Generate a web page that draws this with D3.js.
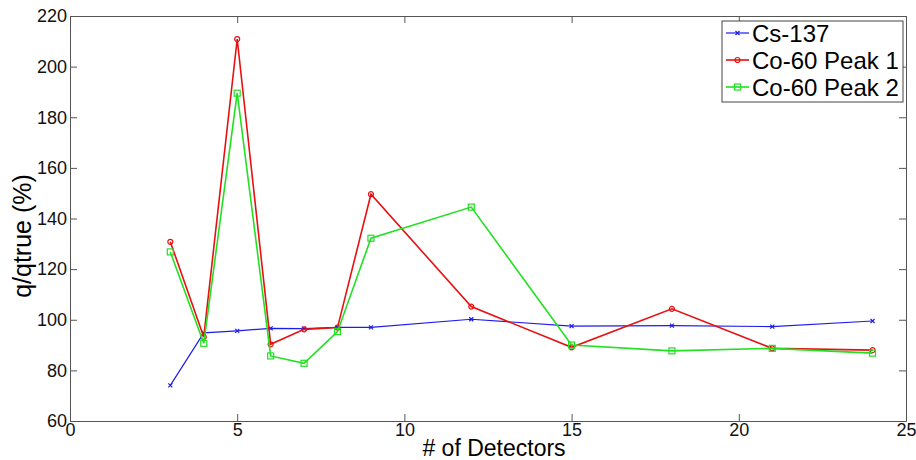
<!DOCTYPE html>
<html>
<head>
<meta charset="utf-8">
<style>
body { margin: 0; background: #fff; }
svg { font-family: "Liberation Sans", Arial, sans-serif; }
.axis path, .axis line { stroke: #555; }
.axis text { font-size: 18px; fill: #111; }
</style>
</head>
<body>
<svg width="916" height="460"></svg>
<script src="https://d3js.org/d3.v7.min.js"></script>
<script>
// detector counts and q/qtrue (%)
var detectors = [3, 4, 5, 6, 7, 8, 9, 12, 15, 18, 21, 24];
var cs137   = [74.1, 94.8, 95.6, 96.6, 96.5, 97.0, 97.0, 100.2, 97.5, 97.7, 97.3, 99.5];
var coPeak1 = [130.8, 93.2, 210.9, 90.3, 96.2, 96.9, 149.6, 105.2, 89.1, 104.3, 88.7, 88.0];
var coPeak2 = [126.8, 90.7, 189.5, 85.7, 82.8, 95.3, 132.2, 144.5, 90.0, 87.7, 88.7, 86.8];
var seriesNames = ["Cs-137", "Co-60 Peak 1", "Co-60 Peak 2"];
var xTicks = [0, 5, 10, 15, 20, 25];
var yTicks = [60, 80, 100, 120, 140, 160, 180, 200, 220];

var svg = d3.select("svg"),
    margin = {top: 16, right: 10, bottom: 39, left: 70},
    width = +svg.attr("width") - margin.left - margin.right,
    height = +svg.attr("height") - margin.top - margin.bottom;

var x = d3.scaleLinear().domain([0, 25]).range([0, width]),
    y = d3.scaleLinear().domain([60, 220]).range([height, 0]);

var g = svg.append("g")
    .attr("transform", "translate(" + margin.left + "," + margin.top + ")");

// matlab style box with inward ticks on all sides
g.append("g").attr("class", "axis")
    .attr("transform", "translate(0," + height + ")")
    .call(d3.axisBottom(x).tickValues(xTicks).tickSizeInner(-7).tickSizeOuter(0).tickPadding(2));
g.append("g").attr("class", "axis")
    .call(d3.axisTop(x).tickValues(xTicks).tickSizeInner(-7).tickSizeOuter(0).tickFormat(""));
g.append("g").attr("class", "axis")
    .call(d3.axisLeft(y).tickValues(yTicks).tickSizeInner(-7).tickSizeOuter(0).tickPadding(3))
    .selectAll("text").attr("x", -3);
g.append("g").attr("class", "axis")
    .attr("transform", "translate(" + width + ",0)")
    .call(d3.axisRight(y).tickValues(yTicks).tickSizeInner(-7).tickSizeOuter(0).tickFormat(""));

svg.append("text")
    .attr("x", margin.left + width / 2 + 6)
    .attr("y", 456)
    .attr("text-anchor", "middle")
    .style("font-size", "23px")
    .text("# of Detectors");

svg.append("text")
    .attr("transform", "translate(31,236) rotate(-90)")
    .attr("text-anchor", "middle")
    .style("font-size", "25px")
    .text("q/qtrue (%)");

var series = [
  {name: seriesNames[0], values: cs137, color: "#1c1cf0", width: 1.2, marker: "x"},
  {name: seriesNames[1], values: coPeak1, color: "#e81010", width: 1.6, marker: "o"},
  {name: seriesNames[2], values: coPeak2, color: "#22e022", width: 1.6, marker: "s"}
];

var line = d3.line()
    .x(function(d) { return x(d[0]); })
    .y(function(d) { return y(d[1]); });

function drawMarker(sel, type, color) {
  if (type === "o") {
    sel.append("circle").attr("r", 2.5).attr("fill", "none").attr("stroke", color).attr("stroke-width", 1.2);
  } else if (type === "s") {
    sel.append("rect").attr("x", -3).attr("y", -3).attr("width", 6).attr("height", 6)
      .attr("fill", "none").attr("stroke", color).attr("stroke-width", 1.2);
  } else {
    sel.append("path").attr("d", "M-2,-2L2,2M-2,2L2,-2").attr("stroke", color).attr("stroke-width", 1.2);
  }
}

series.forEach(function(s) {
  var pts = detectors.map(function(d, i) { return [d, s.values[i]]; });
  g.append("path")
      .datum(pts)
      .attr("fill", "none")
      .attr("stroke", s.color)
      .attr("stroke-width", s.width)
      .attr("d", line);
  g.selectAll(null)
    .data(pts)
    .enter().append("g")
      .attr("transform", function(d) { return "translate(" + x(d[0]) + "," + y(d[1]) + ")"; })
      .each(function() { drawMarker(d3.select(this), s.marker, s.color); });
});

// legend
var lg = svg.append("g").attr("transform", "translate(722,21)");
lg.append("rect").attr("width", 181).attr("height", 81)
    .attr("fill", "#fff").attr("stroke", "#444").attr("stroke-width", 1);
series.forEach(function(s, i) {
  var row = lg.append("g").attr("transform", "translate(0," + (12 + i * 27) + ")");
  row.append("line").attr("x1", 4).attr("x2", 27).attr("y1", 0).attr("y2", 0)
      .attr("stroke", s.color).attr("stroke-width", s.width);
  drawMarker(row.append("g").attr("transform", "translate(15.5,0)"), s.marker, s.color);
  row.append("text").attr("x", 30).attr("y", 8.5)
      .style("font-size", "24px").text(s.name);
});
</script>
</body>
</html>
